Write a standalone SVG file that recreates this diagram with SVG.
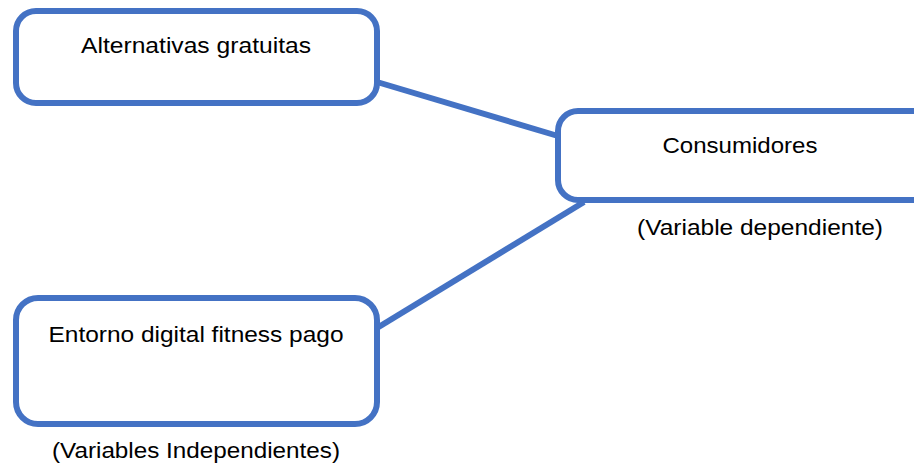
<svg xmlns="http://www.w3.org/2000/svg" width="914" height="465" viewBox="0 0 914 465">
<style>
.box{fill:#fff;stroke:#4472C4;stroke-width:6}
.con{stroke:#4472C4;stroke-width:6;fill:none}
text{font-family:"Liberation Sans",Arial,sans-serif;font-size:21.5px;fill:#000}
</style>
<rect width="914" height="465" fill="#fff"/>
<g id="connectors">
<line class="con" x1="377" y1="82" x2="558" y2="136"/>
<line class="con" x1="377" y1="328" x2="584" y2="202"/>
</g>
<g id="alternativas">
<rect class="box" x="16" y="11" width="361" height="92" rx="20"/>
<text x="196" y="53" text-anchor="middle" textLength="230" lengthAdjust="spacingAndGlyphs">Alternativas gratuitas</text>
</g>
<g id="consumidores">
<rect class="box" x="558" y="111" width="380" height="89" rx="20"/>
<text x="740" y="153" text-anchor="middle" textLength="155" lengthAdjust="spacingAndGlyphs">Consumidores</text>
<text x="760" y="235" text-anchor="middle" textLength="246" lengthAdjust="spacingAndGlyphs">(Variable dependiente)</text>
</g>
<g id="entorno">
<rect class="box" x="16" y="298" width="361" height="126" rx="22"/>
<text x="196" y="342" text-anchor="middle" textLength="295" lengthAdjust="spacingAndGlyphs">Entorno digital fitness pago</text>
<text x="196" y="458" text-anchor="middle" textLength="288" lengthAdjust="spacingAndGlyphs">(Variables Independientes)</text>
</g>
</svg>
